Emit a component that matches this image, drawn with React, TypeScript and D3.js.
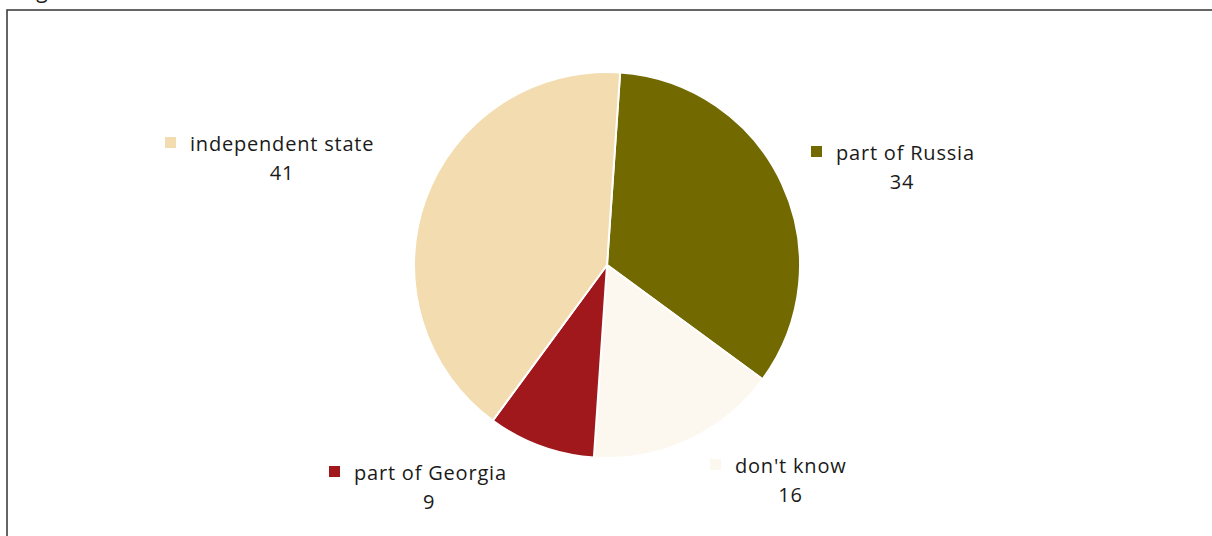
import React from "react";
import * as d3 from "d3";

const categories = ["part of Russia", "don't know", "part of Georgia", "independent state"];
const values = [34, 16, 9, 41];
const colors = ["#726900", "#FCF8EF", "#A0181C", "#F2DCB0"];
// legend label anchor (marker left x, text baseline y)
const labelPos: [number, number][] = [
  [811, 160],
  [710, 473],
  [329, 480],
  [165, 151],
];

const W = 1212;
const H = 536;
const cx = 607;
const cy = 265;
const R = 193;
const startAngle = (3.9 * Math.PI) / 180;
const FONT = "'Open Sans', 'Noto Sans', sans-serif";
const FS = 20;
const LS = 0.8;

export default function App() {
  const data = categories.map((c, i) => ({ c, v: values[i], color: colors[i] }));
  const pie = d3
    .pie<{ c: string; v: number; color: string }>()
    .value((d) => d.v)
    .sort(null)
    .startAngle(startAngle)
    .endAngle(startAngle + 2 * Math.PI);
  const arcs = pie(data);
  const arc = d3
    .arc<d3.PieArcDatum<{ c: string; v: number; color: string }>>()
    .innerRadius(0)
    .outerRadius(R);

  const textW: Record<string, number> = {
    "part of Russia": 132,
    "don't know": 111,
    "part of Georgia": 150,
    "independent state": 184,
  };

  return (
    <svg
      width={W}
      height={H}
      style={{ position: "absolute", left: 0, top: 0, background: "#fff" }}
    >
      <text x={20} y={-2} fontFamily={FONT} fontSize={21} fill="#222">
        Fig
      </text>
      <rect x={7} y={10} width={W + 10} height={H + 10} fill="none" stroke="#333" strokeWidth={1.5} />
      <g transform={`translate(${cx},${cy})`}>
        {arcs.map((a, i) => (
          <path key={i} d={arc(a) || ""} fill={a.data.color} stroke="#fff" strokeWidth={2} />
        ))}
      </g>
      {data.map((d, i) => {
        const [mx, by] = labelPos[i];
        const tx = mx + 25;
        return (
          <g key={i}>
            <rect x={mx} y={by - 14} width={11} height={11} fill={d.color} />
            <text
              x={tx}
              y={by}
              fontFamily={FONT}
              fontSize={FS}
              letterSpacing={LS}
              fill="#1a1a1a"
            >
              {d.c}
            </text>
            <text
              x={tx + textW[d.c] / 2}
              y={by + 29}
              textAnchor="middle"
              fontFamily={FONT}
              fontSize={FS}
              letterSpacing={LS}
              fill="#1a1a1a"
            >
              {d.v}
            </text>
          </g>
        );
      })}
    </svg>
  );
}
